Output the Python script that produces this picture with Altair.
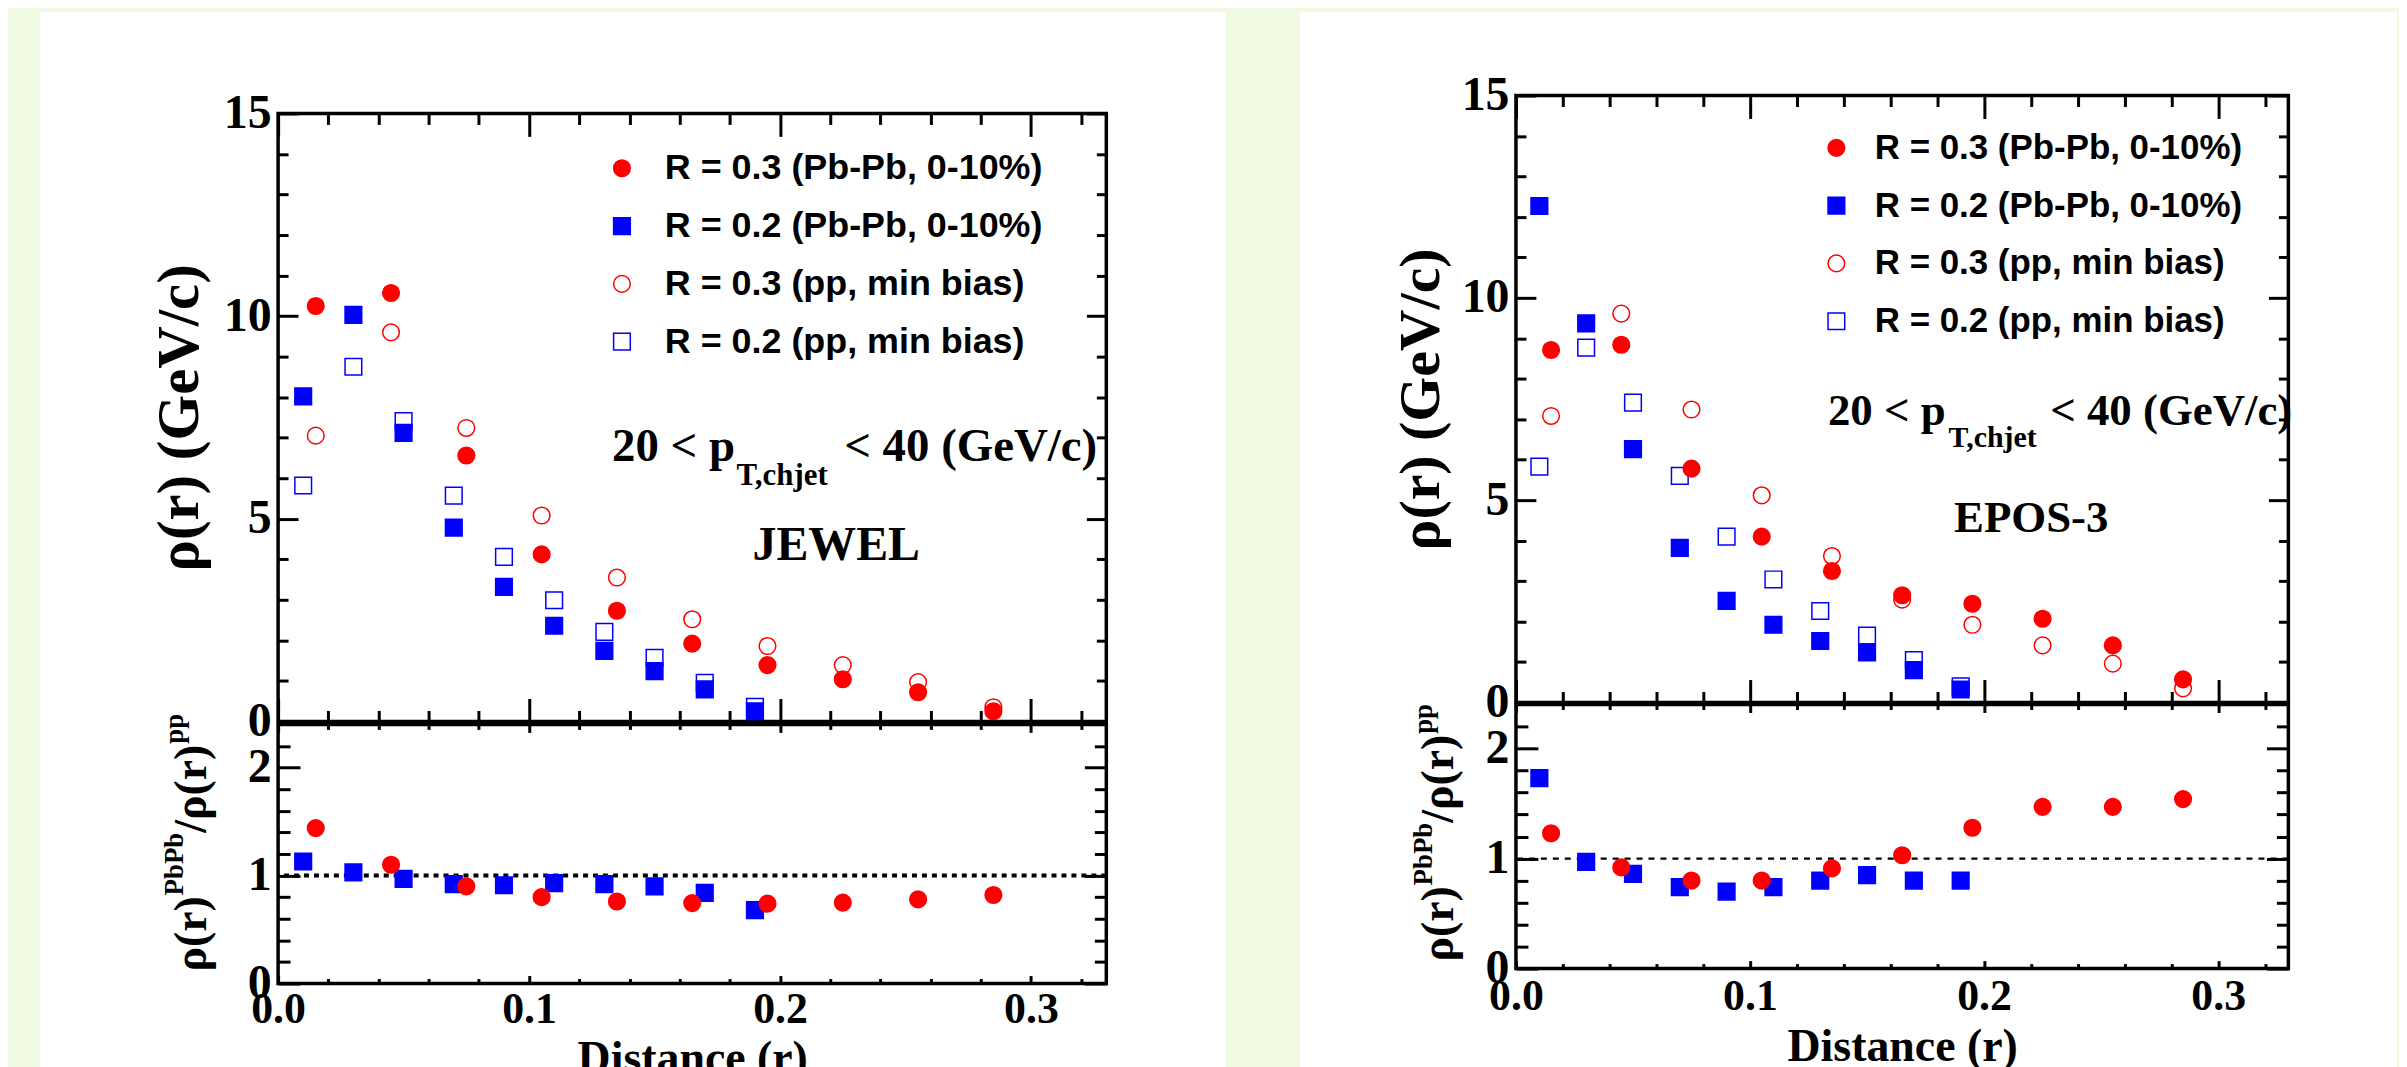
import altair as alt
import pandas as pd

# ---------------- data ----------------
R03 = [0.015, 0.045, 0.075, 0.105, 0.135, 0.165, 0.195, 0.225, 0.255, 0.285]
R02 = [0.01, 0.03, 0.05, 0.07, 0.09, 0.11, 0.13, 0.15, 0.17, 0.19]

JEWEL_PBPB_03 = [10.25, 10.57, 6.56, 4.12, 2.73, 1.92, 1.39, 1.04, 0.72, 0.25]
JEWEL_PP_03 = [7.05, 9.60, 7.24, 5.08, 3.55, 2.52, 1.86, 1.39, 0.97, 0.35]
JEWEL_PBPB_02 = [8.02, 10.03, 7.12, 4.78, 3.32, 2.36, 1.74, 1.24, 0.79, 0.25]
JEWEL_PP_02 = [5.82, 8.75, 7.41, 5.57, 4.06, 2.99, 2.21, 1.57, 0.95, 0.36]
JEWEL_RATIO_03 = [1.44, 1.10, 0.90, 0.80, 0.76, 0.745, 0.74, 0.75, 0.78, 0.82]
JEWEL_RATIO_02 = [1.13, 1.03, 0.97, 0.92, 0.91, 0.93, 0.92, 0.90, 0.84, 0.68]

EPOS_PBPB_03 = [8.71, 8.84, 5.78, 4.10, 3.25, 2.65, 2.44, 2.07, 1.41, 0.57]
EPOS_PP_03 = [7.08, 9.61, 7.24, 5.12, 3.62, 2.54, 1.92, 1.41, 0.96, 0.35]
EPOS_PBPB_02 = [12.27, 9.37, 6.26, 3.82, 2.51, 1.92, 1.52, 1.24, 0.80, 0.32]
EPOS_PP_02 = [5.83, 8.77, 7.41, 5.60, 4.10, 3.04, 2.26, 1.65, 1.05, 0.40]
EPOS_RATIO_03 = [1.23, 0.92, 0.80, 0.80, 0.91, 1.03, 1.28, 1.47, 1.47, 1.54]
EPOS_RATIO_02 = [1.73, 0.97, 0.86, 0.74, 0.70, 0.74, 0.80, 0.85, 0.80, 0.80]

SERIES = ["R = 0.3 (Pb-Pb, 0-10%)", "R = 0.2 (Pb-Pb, 0-10%)",
          "R = 0.3 (pp, min bias)", "R = 0.2 (pp, min bias)"]
SHAPES = ["circle", "square", "circle", "square"]
FILLS = ["#ff0000", "#0000ff", "transparent", "transparent"]
STROKES = ["#ff0000", "#0000ff", "#ff0000", "#0000ff"]

RATIO_SERIES = ["R = 0.3 ratio", "R = 0.2 ratio"]
RATIO_SHAPES = ["circle", "square"]
RATIO_COLORS = ["#ff0000", "#0000ff"]
RATIO_REF = [1.0]

X_DOMAIN = [0, 0.33]
X_MAJOR = [0, 0.1, 0.2, 0.3]
X_MINOR = [0.02, 0.04, 0.06, 0.08, 0.12, 0.14, 0.16, 0.18, 0.22, 0.24, 0.26, 0.28, 0.32]
Y_TOP_DOMAIN = [0, 15]
Y_TOP_MAJOR = [0, 5, 10, 15]
Y_TOP_MINOR = [1, 2, 3, 4, 6, 7, 8, 9, 11, 12, 13, 14]
Y_BOT_DOMAIN = [0, 2.4]
Y_BOT_MAJOR = [0, 1, 2]
Y_BOT_MINOR = [0.2, 0.4, 0.6, 0.8, 1.2, 1.4, 1.6, 1.8, 2.2]

YTITLE_TOP = "ρ(r) (GeV/c)"
YTITLE_BOT = ["ρ(r)", "PbPb", "/ρ(r)", "pp"]
XTITLE = "Distance (r)"
ANNOT_PT = ["20 < p", "T,chjet", "< 40 (GeV/c)"]
MODELS = ["JEWEL", "EPOS-3"]

GREEN = "#f0fae1"
SERIF = "Liberation Serif"
SANS = "Liberation Sans"
ONE = pd.DataFrame({"k": [0]})
MSIZE = 280


def top_frame(pbpb03, pbpb02, pp03, pp02):
    rows = []
    for s, xs, vs in [(SERIES[3], R02, pp02), (SERIES[2], R03, pp03),
                      (SERIES[1], R02, pbpb02), (SERIES[0], R03, pbpb03)]:
        rows += [{"r": x, "v": v, "series": s} for x, v in zip(xs, vs)]
    return pd.DataFrame(rows)


def ratio_frame(r03, r02):
    rows = [{"r": x, "v": v, "series": RATIO_SERIES[1]} for x, v in zip(R02, r02)]
    rows += [{"r": x, "v": v, "series": RATIO_SERIES[0]} for x, v in zip(R03, r03)]
    return pd.DataFrame(rows)


def ax(orient, values, size, **kw):
    opts = dict(orient=orient, values=values, tickSize=size, offset=-size, domain=False,
                grid=False, ticks=True, tickWidth=3, tickColor="black", zindex=1,
                labels=False, title=None)
    opts.update(kw)
    return alt.Axis(**opts)


LAB = dict(labels=True, labelFont=SERIF, labelFontWeight="bold", labelColor="black",
           labelFlush=False, labelOverlap=False)


def txt(s, x, y, size, font=SERIF, align="left", angle=0):
    return alt.Chart(ONE).mark_text(
        text=s, font=font, fontWeight="bold", fontSize=size, align=align,
        baseline="alphabetic", angle=angle, color="black"
    ).encode(x=alt.value(x), y=alt.value(y))


def top_panel(df, c):
    W, H = c["W"], c["Ht"]
    xs = alt.Scale(domain=X_DOMAIN, nice=False, zero=False)
    ys = alt.Scale(domain=Y_TOP_DOMAIN, nice=False, zero=False)
    leg = alt.Legend(orient="none", legendX=c["legx"], legendY=c["legy"], title=None, padding=0,
                     labelFont=SANS, labelFontWeight="bold", labelFontSize=c["legfs"],
                     labelColor="black", labelLimit=1000, labelOffset=c["legoff"],
                     rowPadding=c["legrp"], symbolSize=MSIZE, symbolStrokeWidth=1.5)
    base = alt.Chart(df)
    ghost = base.mark_point(opacity=0)
    g2 = ghost.encode(x=alt.X("r:Q", scale=xs, axis=ax("bottom", X_MINOR, 11)),
                      y=alt.Y("v:Q", scale=ys, axis=ax("left", Y_TOP_MINOR, 10)))
    g3 = ghost.encode(x=alt.X("r:Q", scale=xs, axis=ax("top", X_MAJOR, 23)),
                      y=alt.Y("v:Q", scale=ys, axis=ax("right", Y_TOP_MAJOR, 20)))
    g4 = ghost.encode(x=alt.X("r:Q", scale=xs, axis=ax("top", X_MINOR, 11)),
                      y=alt.Y("v:Q", scale=ys, axis=ax("right", Y_TOP_MINOR, 10)))
    pts = base.mark_point(filled=True, opacity=1, size=MSIZE, strokeWidth=1.5).encode(
        x=alt.X("r:Q", scale=xs, axis=ax("bottom", X_MAJOR, 23)),
        y=alt.Y("v:Q", scale=ys, axis=ax(
            "left", Y_TOP_MAJOR, 20, labelFontSize=c["ylabfs"], labelPadding=7,
            title=YTITLE_TOP, titleFont=SERIF, titleFontWeight="bold",
            titleFontSize=c["ytfs"], titleColor="black", titleX=c["ytx"], titleY=H / 2,
            titleAlign="center", titleBaseline="middle", titleAngle=270, **LAB)),
        shape=alt.Shape("series:N", scale=alt.Scale(domain=SERIES, range=SHAPES), legend=leg),
        fill=alt.Fill("series:N", scale=alt.Scale(domain=SERIES, range=FILLS), legend=leg),
        stroke=alt.Stroke("series:N", scale=alt.Scale(domain=SERIES, range=STROKES), legend=leg),
    )
    a = c["annot"]
    texts = [
        txt(ANNOT_PT[0], a[0], a[1], a[2]),
        txt(ANNOT_PT[1], a[3], a[4], a[5]),
        txt(ANNOT_PT[2], a[6], a[1], a[2]),
        txt(c["model"], a[7], a[8], a[9], align="center"),
    ]
    return alt.layer(g2, g3, g4, pts, *texts).resolve_axis(
        x="independent", y="independent").properties(width=W, height=H)


def bottom_panel(df, c):
    W, H = c["W"], c["Hb"]
    xs = alt.Scale(domain=X_DOMAIN, nice=False, zero=False)
    ys = alt.Scale(domain=Y_BOT_DOMAIN, nice=False, zero=False)
    base = alt.Chart(df)
    ghost = base.mark_point(opacity=0)
    g2 = ghost.encode(x=alt.X("r:Q", scale=xs, axis=ax("bottom", X_MINOR, 5)),
                      y=alt.Y("v:Q", scale=ys, axis=ax("left", Y_BOT_MINOR, 12)))
    g3 = ghost.encode(x=alt.X("r:Q", scale=xs, axis=ax("top", X_MAJOR, 8)),
                      y=alt.Y("v:Q", scale=ys, axis=ax("right", Y_BOT_MAJOR, 22)))
    g4 = ghost.encode(x=alt.X("r:Q", scale=xs, axis=ax("top", X_MINOR, 5)),
                      y=alt.Y("v:Q", scale=ys, axis=ax("right", Y_BOT_MINOR, 12)))
    rule = alt.Chart(pd.DataFrame({"one": RATIO_REF})).mark_rule(
        color="black", strokeDash=c["dash"], strokeWidth=c["dashw"]
    ).encode(y=alt.Y("one:Q", scale=ys, axis=None))
    pts = base.mark_point(filled=True, opacity=1, size=MSIZE, strokeWidth=1.5).encode(
        x=alt.X("r:Q", scale=xs, axis=ax(
            "bottom", X_MAJOR, 8, labelFontSize=44, labelPadding=c["xlabpad"],
            title=XTITLE, titleFont=SERIF, titleFontWeight="bold", titleFontSize=46,
            titleColor="black", titleY=c["xty"], titleBaseline="top", **LAB)),
        y=alt.Y("v:Q", scale=ys, axis=ax("left", Y_BOT_MAJOR, 22, labelFontSize=c["ylabfs"],
                                         labelPadding=7, **LAB)),
        shape=alt.Shape("series:N", scale=alt.Scale(domain=RATIO_SERIES, range=RATIO_SHAPES), legend=None),
        fill=alt.Fill("series:N", scale=alt.Scale(domain=RATIO_SERIES, range=RATIO_COLORS), legend=None),
        stroke=alt.Stroke("series:N", scale=alt.Scale(domain=RATIO_SERIES, range=RATIO_COLORS), legend=None),
    )
    xm, xsup, y0, fm, fsup = c["ytb"]
    l1 = 1.66 * fm
    l2 = 2.33 * fsup
    l3 = 1.94 * fm
    texts = [
        txt(YTITLE_BOT[0], xm, y0, fm, angle=270),
        txt(YTITLE_BOT[1], xsup, y0 - l1, fsup, angle=270),
        txt(YTITLE_BOT[2], xm, y0 - l1 - l2, fm, angle=270),
        txt(YTITLE_BOT[3], xsup, y0 - l1 - l2 - l3, fsup, angle=270),
    ]
    return alt.layer(g2, g3, g4, rule, pts, *texts).resolve_axis(
        x="independent", y="independent").properties(width=W, height=H)


def spacer(w, h, box):
    rect = alt.Chart(ONE).mark_rect(color="white").encode(
        x=alt.value(box[0]), x2=alt.value(box[1]), y=alt.value(box[2]), y2=alt.value(box[3]))
    return alt.layer(rect).properties(width=w, height=h,
                                      view=alt.ViewBackground(stroke="transparent"))


LEFT = dict(W=831, Ht=610, Hb=260, legx=327, legy=37, legfs=36, legoff=25, legrp=22,
            ylabfs=48, ytfs=59, ytx=-119,
            annot=[335, 349, 47, 460, 373, 31, 568, 560, 448, 48], model=MODELS[0],
            dash=[5, 5], dashw=4, xlabpad=4, xty=61, ytb=[-72, -95, 248, 46, 27],
            sph=19, box=[-239, 951, -80, 979], vsp=3)
RIGHT = dict(W=775, Ht=609, Hb=265, legx=304, legy=35, legfs=35, legoff=21, legrp=22,
             ylabfs=48, ytfs=58, ytx=-115,
             annot=[313, 331, 45, 434, 353, 30, 536, 517, 438, 45], model=MODELS[1],
             dash=[6, 6], dashw=2.2, xlabpad=6, xty=64, ytb=[-63, -84, 258, 46, 27],
             sph=2, box=[-217, 884, -80, 979], vsp=2)

INDEP = dict(shape="independent", fill="independent", stroke="independent")


def column(df_top, df_bot, c):
    return alt.vconcat(
        spacer(c["W"], c["sph"], c["box"]), top_panel(df_top, c), bottom_panel(df_bot, c),
        spacing=c["vsp"], bounds="flush",
    ).resolve_scale(**INDEP)


colL = column(top_frame(JEWEL_PBPB_03, JEWEL_PBPB_02, JEWEL_PP_03, JEWEL_PP_02),
              ratio_frame(JEWEL_RATIO_03, JEWEL_RATIO_02), LEFT)
colR = column(top_frame(EPOS_PBPB_03, EPOS_PBPB_02, EPOS_PP_03, EPOS_PP_02),
              ratio_frame(EPOS_RATIO_03, EPOS_RATIO_02), RIGHT)

chart = alt.hconcat(colL, colR, spacing=70, bounds="full").resolve_scale(**INDEP).properties(
    padding={"left": 30, "top": 0, "right": 0, "bottom": 0}
).configure(background=GREEN).configure_view(stroke="black", strokeWidth=3.5)

chart.save("out.html", embed_options={"renderer": "svg", "actions": False})
